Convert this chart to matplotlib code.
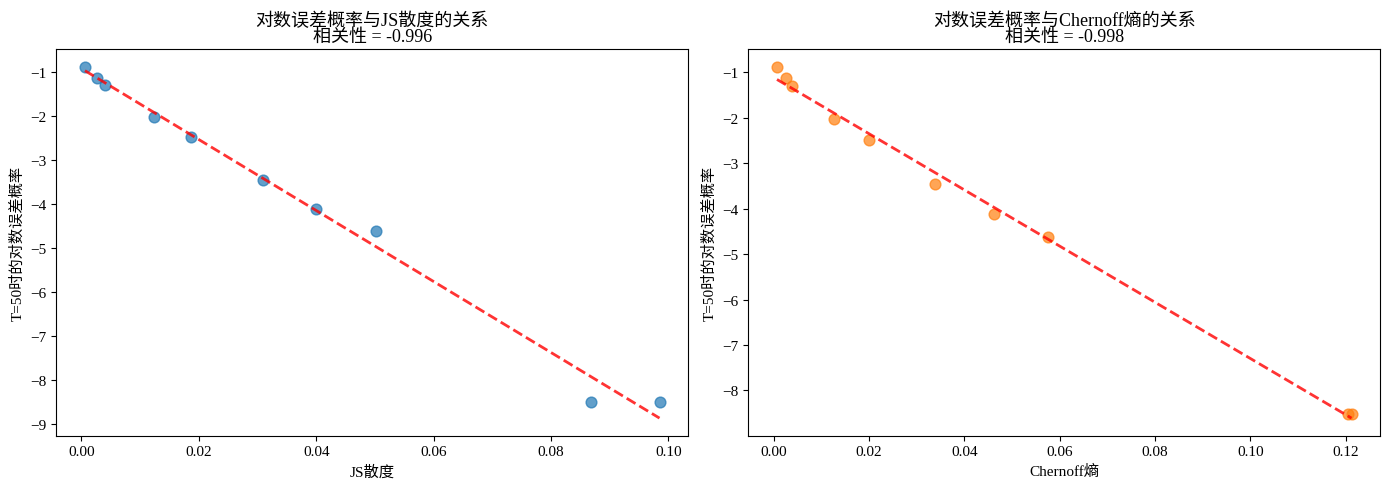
import numpy as np
import matplotlib
matplotlib.use('Agg')
from matplotlib import pyplot as plt

plt.rcParams['font.family'] = ['Liberation Serif', 'Noto Sans CJK SC', 'DejaVu Sans']
plt.rcParams['axes.unicode_minus'] = True

# values
js_div = [0.0006, 0.0027, 0.0040, 0.0123, 0.0187, 0.0310, 0.0400, 0.0502, 0.0869, 0.0985]
chernoff = [0.0007, 0.0025, 0.0038, 0.0127, 0.0200, 0.0338, 0.0463, 0.0576, 0.1204, 0.1212]
log_err = [-0.88, -1.13, -1.29, -2.03, -2.48, -3.45, -4.12, -4.62, -8.52, -8.52]
corr_js = -0.996
corr_chernoff = -0.998

fig, axes = plt.subplots(1, 2, figsize=(13.89, 4.89), dpi=100)

panels = [
    (axes[0], js_div, 'C0', 'JS散度', '对数误差概率与JS散度的关系', corr_js),
    (axes[1], chernoff, 'C1', 'Chernoff熵', '对数误差概率与Chernoff熵的关系', corr_chernoff),
]
for ax, xs, color, xlabel, title, r in panels:
    xs = np.array(xs)
    ys = np.array(log_err)
    ax.scatter(xs, ys, s=60, color=color, alpha=0.7)
    k, b = np.polyfit(xs, ys, 1)
    xx = np.linspace(xs.min(), xs.max(), 100)
    ax.plot(xx, k * xx + b, 'r--', alpha=0.8, linewidth=2)
    ax.set_xlabel(xlabel, fontsize=11)
    ax.set_ylabel('T=50时的对数误差概率', fontsize=11)
    ax.set_title(f'{title}\n相关性 = {r:.3f}', fontsize=13, linespacing=0.95)
    ax.tick_params(labelsize=11)

plt.subplots_adjust(left=0.0405, right=0.9937, top=0.897, bottom=0.107, wspace=0.095)
plt.savefig('out.png')
